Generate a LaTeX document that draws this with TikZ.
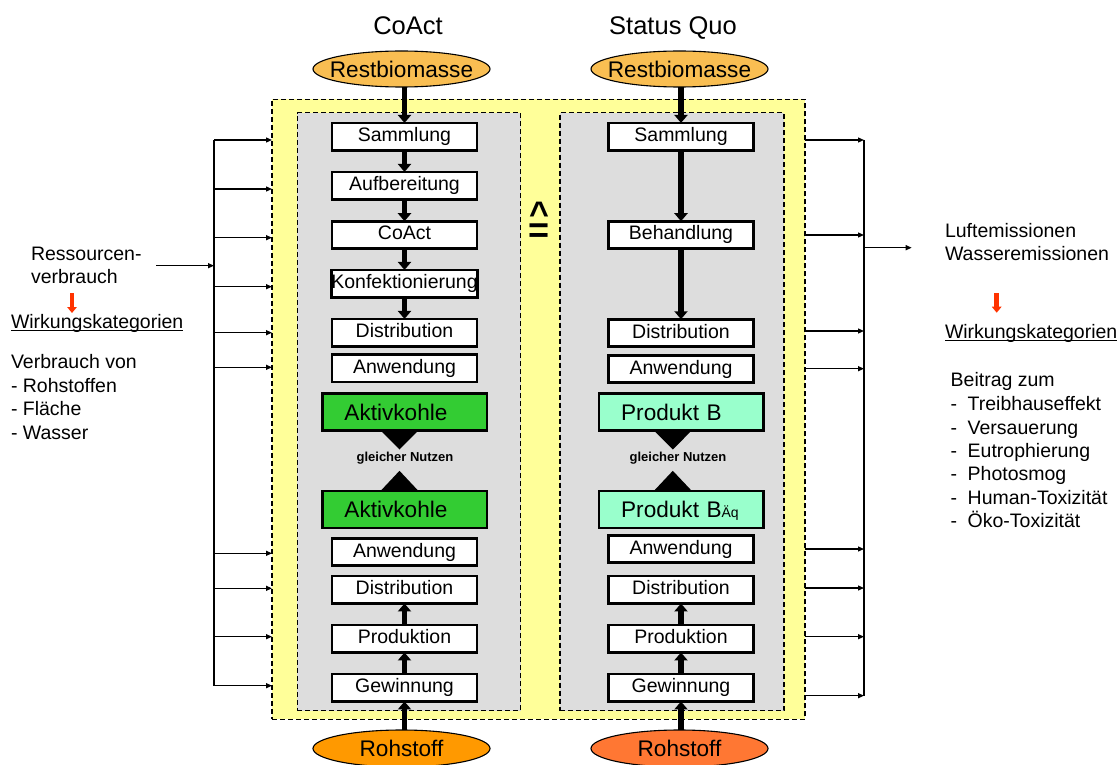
\documentclass[tikz,border=0pt]{standalone}
\usepackage{fontspec}
\setmainfont{Liberation Sans}
\usetikzlibrary{arrows.meta,calc,shapes.geometric}
\definecolor{yelf}{RGB}{255,255,153}
\definecolor{grayf}{RGB}{221,221,221}
\definecolor{biom}{RGB}{249,190,82}
\definecolor{rohA}{RGB}{255,153,0}
\definecolor{rohB}{RGB}{255,119,51}
\definecolor{aktg}{RGB}{51,204,51}
\definecolor{prodb}{RGB}{153,255,204}
\definecolor{redarr}{RGB}{255,51,0}
\begin{document}
\begin{tikzpicture}[x=1pt,y=-1pt,
  every node/.style={inner sep=0pt,outer sep=0pt},
  txt/.style={font=\fontsize{19.5pt}{23.4pt}\selectfont},
  stepbox/.style={draw,line width=2.6pt,fill=white,minimum width=145pt,minimum height=27.5pt,txt,text height=14pt,text depth=4pt},
  prodbox/.style={draw,line width=2.6pt,minimum width=164.5pt,minimum height=37pt,text width=120.5pt,inner xsep=22pt,align=left,font=\fontsize{22.6pt}{27pt}\selectfont,text height=17pt,text depth=1pt},
  ell/.style={ellipse,draw,line width=1.1pt,minimum width=177pt,minimum height=36pt,font=\fontsize{22.6pt}{27pt}\selectfont},
  dashbox/.style={draw,line width=1.2pt,dash pattern=on 5pt off 3pt},
  thickarr/.style={line width=5.5pt,-{Triangle[width=13pt,length=8pt]}},
  sarr/.style={line width=1.3pt,-{Triangle[width=5pt,length=6pt]}},
  redarrow/.style={redarr,line width=4.5pt,-{Triangle[width=9.5pt,length=6pt]}},
  ttl/.style={font=\fontsize{25.5pt}{30pt}\selectfont,anchor=base},
  gn/.style={font=\bfseries\fontsize{13pt}{15pt}\selectfont},
  lt/.style={txt,anchor=base west}
]
\useasboundingbox (0,0) rectangle (1120,765);

% backgrounds
\node[dashbox,fill=yelf,minimum width=533pt,minimum height=620pt] (yel) at (538.5,409.3) {};
\node[dashbox,fill=grayf,minimum width=223.4pt,minimum height=598pt] (g1) at (409,411.7) {};
\node[dashbox,fill=grayf,minimum width=224pt,minimum height=598pt] (g2) at (672,411.7) {};

% titles
\node[ttl] (tco) at (408,34.4) {CoAct};
\node[ttl] (tsq) at (673,34.4) {Status Quo};

% ellipses
\node[ell,fill=biom] (bio1) at (401.5,69) {\makebox[0pt]{Restbiomasse}};
\node[ell,fill=biom] (bio2) at (679.5,69) {\makebox[0pt]{Restbiomasse}};
\node[ell,fill=rohA,minimum height=37pt] (roh1) at (401.5,748.5) {\makebox[0pt]{Rohstoff}};
\node[ell,fill=rohB,minimum height=37pt] (roh2) at (679.5,748.5) {\makebox[0pt]{Rohstoff}};

% left column
\node[stepbox] (s1) at (404.5,136.7) {Sammlung};
\node[stepbox] (a2) at (404.5,185.7) {Aufbereitung};
\node[stepbox] (a3) at (404.5,235) {CoAct};
\node[stepbox] (a4) at (404.5,283.7) {Konfektionierung};
\node[stepbox] (a5) at (404.5,332.7) {Distribution};
\node[stepbox] (a6) at (404.5,368.3) {Anwendung};
\node[prodbox,fill=aktg] (akt1) at (404.7,412) {Aktivkohle};
\node[prodbox,fill=aktg] (akt2) at (404.7,509.3) {Aktivkohle};
\node[stepbox] (b6) at (404.5,552) {Anwendung};
\node[stepbox] (b5) at (404.5,589.7) {Distribution};
\node[stepbox] (b4) at (404.5,638.7) {Produktion};
\node[stepbox] (b3) at (404.5,687.7) {Gewinnung};

% right column
\node[stepbox] (rs1) at (681,136.7) {Sammlung};
\node[stepbox] (r2) at (681,235) {Behandlung};
\node[stepbox] (r3) at (681,333) {Distribution};
\node[stepbox] (r4) at (681,369) {Anwendung};
\node[prodbox,fill=prodb] (pb1) at (681.4,412) {Produkt B};
\node[prodbox,fill=prodb] (pb2) at (681.4,509.3) {Produkt B{\fontsize{14pt}{16pt}\selectfont Äq}};
\node[stepbox] (rb6) at (681,549) {Anwendung};
\node[stepbox] (rb5) at (681,589.7) {Distribution};
\node[stepbox] (rb4) at (681,638.7) {Produktion};
\node[stepbox] (rb3) at (681,687.7) {Gewinnung};

% equal benefit triangles and labels
\fill ($(akt1.south)+(-24,0)$) -- ($(akt1.south)+(13.6,0)$) -- ($(akt1.south)+(-5.2,19)$) -- cycle;
\fill ($(akt2.north)+(-24,0)$) -- ($(akt2.north)+(13.6,0)$) -- ($(akt2.north)+(-5.2,-20)$) -- cycle;
\fill ($(pb1.south)+(-27.4,0)$) -- ($(pb1.south)+(10.3,0)$) -- ($(pb1.south)+(-8.6,19)$) -- cycle;
\fill ($(pb2.north)+(-27.4,0)$) -- ($(pb2.north)+(10.3,0)$) -- ($(pb2.north)+(-8.6,-20)$) -- cycle;
\node[gn] (gn1) at (405,457.7) {gleicher Nutzen};
\node[gn] (gn2) at (678,457.7) {gleicher Nutzen};

% correspondence symbol (hat over equals)
\node[font=\bfseries\fontsize{36pt}{36pt}\selectfont,anchor=base] (corr) at (539,242)
  {\makebox[20pt]{\makebox[0pt]{\raisebox{16.5pt}{\fontsize{34pt}{34pt}\selectfont\textasciicircum}}\makebox[0pt]{=}}};

% thick flow arrows
\draw[thickarr] (s1.north |- bio1.south) -- (s1.north);
\draw[thickarr] (s1) -- (a2);
\draw[thickarr] (a2) -- (a3);
\draw[thickarr] (a3) -- (a4);
\draw[thickarr] (a4) -- (a5);
\draw[thickarr] (rs1.north |- bio2.south) -- (rs1.north);
\draw[thickarr] (rs1) -- (r2);
\draw[thickarr] (r2) -- (r3);
\draw[thickarr] (b3.south |- roh1.north) -- (b3.south);
\draw[thickarr] (b3) -- (b4);
\draw[thickarr] (b4) -- (b5);
\draw[thickarr] (rb3.south |- roh2.north) -- (rb3.south);
\draw[thickarr] (rb3) -- (rb4);
\draw[thickarr] (rb4) -- (rb5);

% left resource arrows
\coordinate (ltop) at (214,140);
\coordinate (lbot) at (214,685.7);
\draw[line width=1.3pt] (ltop) -- (lbot);
\foreach \yy in {140,189,237.7,286.7,332.7,367.3,553.3,588.3,636.7,685.7}{
  \coordinate (lp) at (214,\yy);
  \draw[sarr] (lp) -- (lp -| yel.west);
}
\coordinate (lin) at (156,265.7);
\draw[sarr] (lin) -- (lin -| ltop);

% right emission arrows
\coordinate (rtop) at (864,140);
\coordinate (rbot) at (864,695.7);
\draw[line width=1.3pt] (rtop) -- (rbot);
\foreach \yy in {140,235,331,368.7,549,588,636.7,695.7}{
  \coordinate (rp) at (864,\yy);
  \draw[sarr] (rp -| yel.east) -- (rp);
}
\coordinate (rout) at (864,247.7);
\coordinate (routE) at (911.7,247.7);
\draw[sarr] (rout) -- (routE);

% left texts
\node[lt] (l1) at (31,260.7) {Ressourcen-};
\node[lt] (l2) at (31,283.3) {verbrauch};
\node[lt] (l3) at (11,328.5) {Wirkungskategorien};
\node[lt] (l4) at (11,368.5) {Verbrauch von};
\node[lt] (l5) at (11,392) {- Rohstoffen};
\node[lt] (l6) at (11,415.5) {- Fläche};
\node[lt] (l7) at (11,439) {- Wasser};
\draw[line width=1.2pt] ([yshift=-2.2pt]l3.base west) -- ([yshift=-2.2pt]l3.base east);
\coordinate (redL1) at (72,293);
\coordinate (redL2) at (72,313);
\draw[redarrow] (redL1) -- (redL2);

% right texts
\node[lt] (q1) at (945,237.3) {Luftemissionen};
\node[lt] (q2) at (945,260) {Wasseremissionen};
\node[lt] (q3) at (945,338.5) {Wirkungskategorien};
\draw[line width=1.2pt] ([yshift=-2.2pt]q3.base west) -- ([yshift=-2.2pt]q3.base east);
\coordinate (redR1) at (996.7,293);
\coordinate (redR2) at (996.7,312.7);
\draw[redarrow] (redR1) -- (redR2);
\node[lt] (q4) at (950.7,386.7) {Beitrag zum};
\node[lt] (q5) at (950.7,410.7) {\makebox[17pt][l]{-}Treibhauseffekt};
\node[lt] (q6) at (950.7,434.1) {\makebox[17pt][l]{-}Versauerung};
\node[lt] (q7) at (950.7,457.5) {\makebox[17pt][l]{-}Eutrophierung};
\node[lt] (q8) at (950.7,480.9) {\makebox[17pt][l]{-}Photosmog};
\node[lt] (q9) at (950.7,504.3) {\makebox[17pt][l]{-}Human-Toxizität};
\node[lt] (q10) at (950.7,527.7) {\makebox[17pt][l]{-}Öko-Toxizität};
\end{tikzpicture}
\end{document}
